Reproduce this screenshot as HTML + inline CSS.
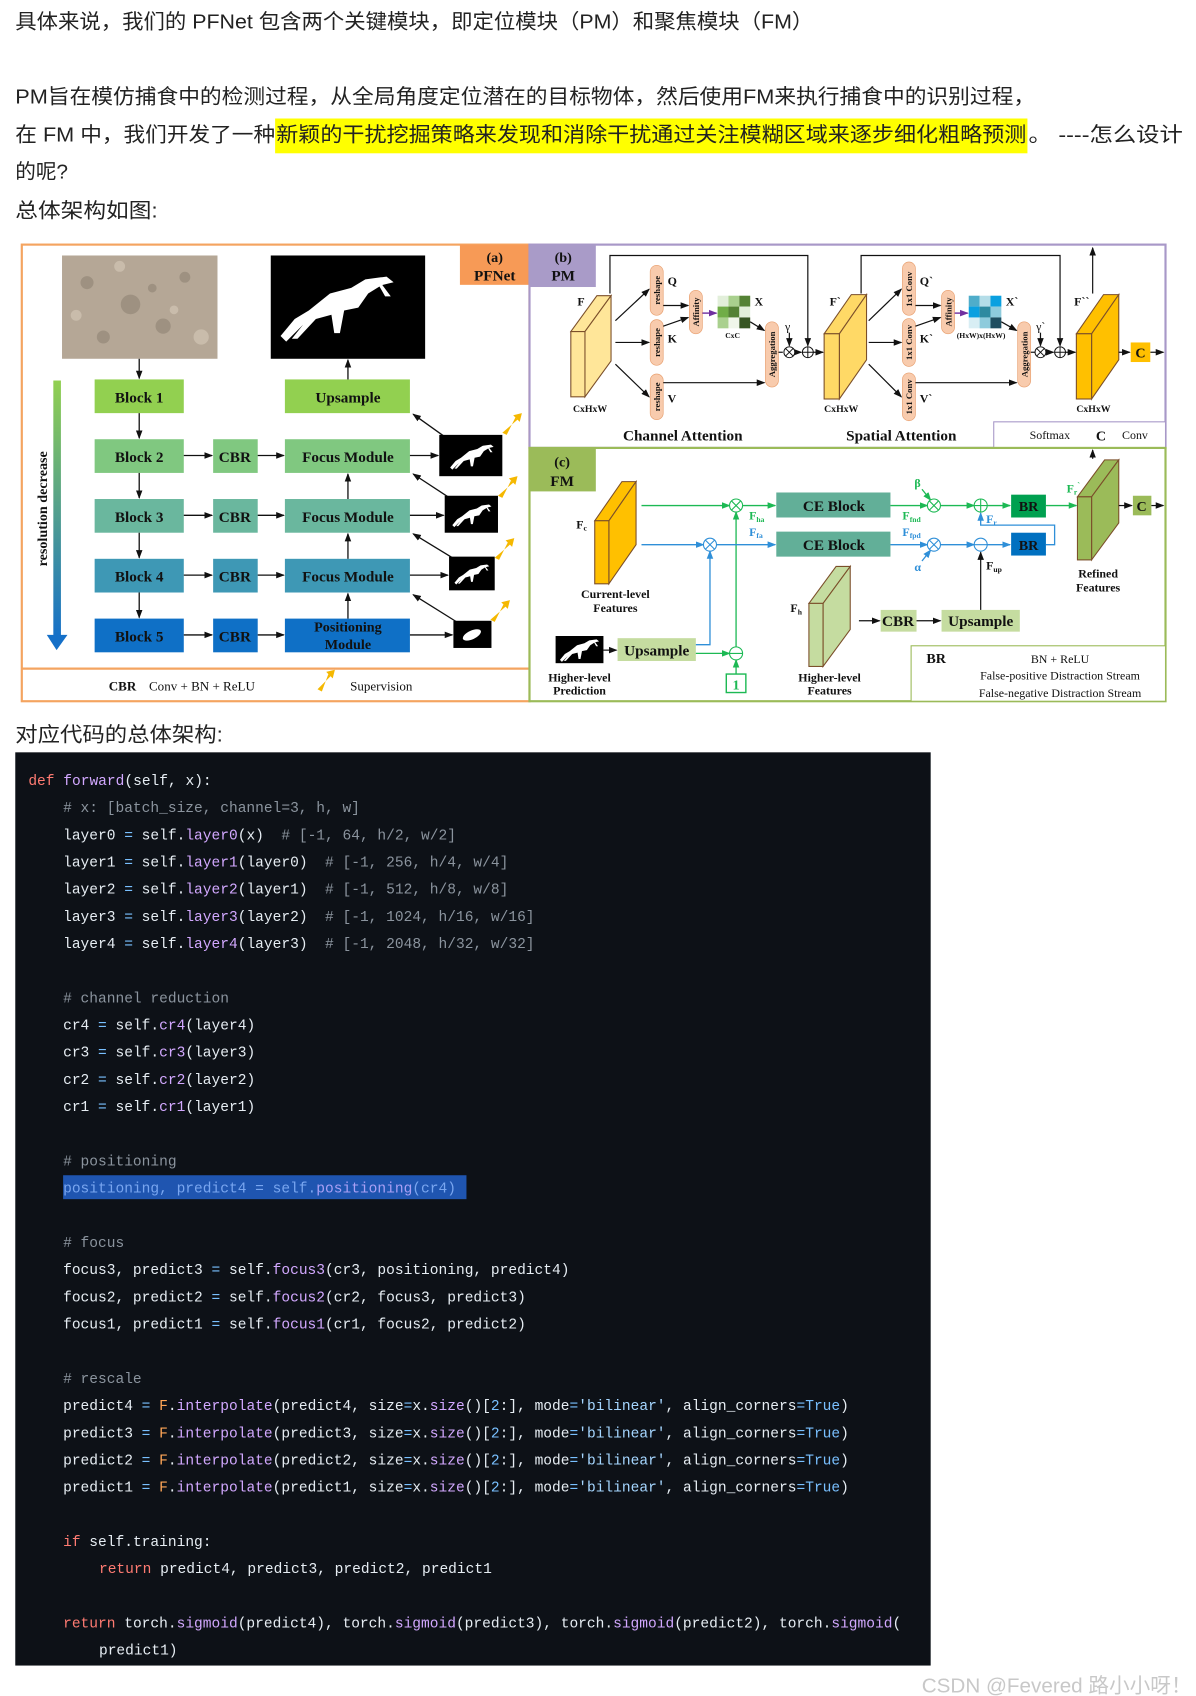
<!DOCTYPE html>
<html><head><meta charset="utf-8"><style>
html,body{margin:0;padding:0;background:#fff;width:1196px;height:1696px;overflow:hidden}
svg{display:block}
.cn{font-family:"Liberation Sans","Noto Sans CJK SC",sans-serif;font-size:19px;fill:#222}
.d{font-family:"Liberation Serif",serif;font-weight:bold;fill:#111}
.dn{font-family:"Liberation Serif",serif;fill:#111}
.c{font-family:"Liberation Mono",monospace;font-size:13.4px;fill:#e6edf3;white-space:pre}
.kw{fill:#ff7b72}.fn{fill:#d2a8ff}.cm{fill:#8b949e}.st{fill:#a5d6ff}.bl{fill:#79c0ff}.fo{fill:#ffa657}
</style></head><body>
<svg width="1196" height="1696" viewBox="0 0 1100 1560" xmlns="http://www.w3.org/2000/svg">
<defs>
<marker id="ak" markerWidth="8" markerHeight="8" refX="7" refY="4" orient="auto" markerUnits="userSpaceOnUse"><path d="M0,1 L8,4 L0,7 z" fill="#111"/></marker>
<marker id="ag" markerWidth="8" markerHeight="8" refX="7" refY="4" orient="auto" markerUnits="userSpaceOnUse"><path d="M0,1 L8,4 L0,7 z" fill="#1db954"/></marker>
<marker id="ab" markerWidth="8" markerHeight="8" refX="7" refY="4" orient="auto" markerUnits="userSpaceOnUse"><path d="M0,1 L8,4 L0,7 z" fill="#2f8fd8"/></marker>
<marker id="ap" markerWidth="8" markerHeight="8" refX="7" refY="4" orient="auto" markerUnits="userSpaceOnUse"><path d="M0,1 L8,4 L0,7 z" fill="#7030a0"/></marker>
<linearGradient id="rg" x1="0" y1="0" x2="0" y2="1"><stop offset="0" stop-color="#92d050"/><stop offset="1" stop-color="#1570c8"/></linearGradient>
<g id="shrimp"><path d="M-40,20 L-30,8 L-20,2 L-5,-10 L10,-14 L20,-20 L35,-22 L40,-18 L32,-16 L38,-8 L34,-8 L30,-15 L22,-10 L15,0 L5,2 L2,18 L-2,18 L-4,5 L-15,8 L-28,22 L-32,22 L-24,12 L-36,24 z" fill="#fff"/></g>
</defs>

<text class="cn" x="14" y="26" textLength="734" lengthAdjust="spacingAndGlyphs">具体来说，我们的 PFNet 包含两个关键模块，即定位模块（PM）和聚焦模块（FM）</text>
<text class="cn" x="14" y="95" textLength="938" lengthAdjust="spacingAndGlyphs">PM旨在模仿捕食中的检测过程，从全局角度定位潜在的目标物体，然后使用FM来执行捕食中的识别过程，</text>
<rect x="253" y="109" width="692" height="32" fill="#ffff00"/>
<text class="cn" x="14" y="130" textLength="239" lengthAdjust="spacingAndGlyphs">在 FM 中，我们开发了一种</text>
<text class="cn" x="254" y="130" textLength="690" lengthAdjust="spacingAndGlyphs">新颖的干扰挖掘策略来发现和消除干扰通过关注模糊区域来逐步细化粗略预测</text>
<text class="cn" x="946" y="130" textLength="142" lengthAdjust="spacingAndGlyphs">。 ----怎么设计</text>
<text class="cn" x="14" y="164">的呢?</text>
<text class="cn" x="14" y="200" textLength="131" lengthAdjust="spacingAndGlyphs">总体架构如图:</text>
<text class="cn" x="14" y="682" textLength="191" lengthAdjust="spacingAndGlyphs">对应代码的总体架构:</text>

<rect x="20" y="225" width="467" height="420" fill="#fff" stroke="#f4a460" stroke-width="2"/>
<line x1="20" y1="615" x2="487" y2="615" stroke="#f4a460" stroke-width="2"/>
<rect x="423" y="225" width="64" height="37" fill="#f79a56"/>
<text class="d" x="455" y="241" font-size="13" text-anchor="middle">(a)</text>
<text class="d" x="455" y="258" font-size="14" text-anchor="middle">PFNet</text>
<rect x="57" y="235" width="143" height="95" fill="#b5a796"/>
<g fill="#8f8474" opacity="0.6"><circle cx="80" cy="260" r="6"/><circle cx="120" cy="280" r="9"/><circle cx="150" cy="300" r="7"/><circle cx="170" cy="255" r="5"/><circle cx="95" cy="310" r="6"/><circle cx="140" cy="265" r="4"/></g>
<g fill="#d2c6b5" opacity="0.7"><circle cx="70" cy="290" r="5"/><circle cx="185" cy="310" r="7"/><circle cx="110" cy="245" r="5"/><circle cx="160" cy="285" r="4"/></g>
<rect x="249" y="235" width="142" height="95" fill="#000"/>
<use href="#shrimp" transform="translate(310,283) scale(1.3)"/>
<rect x="49" y="350" width="7" height="236" fill="url(#rg)"/>
<path d="M43,584 L62,584 L52,598 z" fill="#1570c8"/>
<text class="d" x="43" y="468" font-size="13" text-anchor="middle" transform="rotate(-90 43 468)">resolution decrease</text>

<g font-size="14">
<rect x="87" y="349" width="82" height="31" fill="#92d050"/><text class="d" x="128" y="370" text-anchor="middle">Block 1</text>
<rect x="87" y="404" width="82" height="31" fill="#80c880"/><text class="d" x="128" y="425" text-anchor="middle">Block 2</text>
<rect x="87" y="459" width="82" height="31" fill="#6ab79e"/><text class="d" x="128" y="480" text-anchor="middle">Block 3</text>
<rect x="87" y="514" width="82" height="31" fill="#3e98b5"/><text class="d" x="128" y="535" text-anchor="middle">Block 4</text>
<rect x="87" y="569" width="82" height="31" fill="#0f70c6"/><text class="d" x="128" y="590" text-anchor="middle">Block 5</text>
<rect x="196" y="404" width="41" height="31" fill="#80c880"/><text class="d" x="216" y="425" text-anchor="middle">CBR</text>
<rect x="196" y="459" width="41" height="31" fill="#6ab79e"/><text class="d" x="216" y="480" text-anchor="middle">CBR</text>
<rect x="196" y="514" width="41" height="31" fill="#3e98b5"/><text class="d" x="216" y="535" text-anchor="middle">CBR</text>
<rect x="196" y="569" width="41" height="31" fill="#0f70c6"/><text class="d" x="216" y="590" text-anchor="middle">CBR</text>
<rect x="262" y="349" width="115" height="31" fill="#92d050"/><text class="d" x="320" y="370" text-anchor="middle">Upsample</text>
<rect x="262" y="404" width="115" height="31" fill="#80c880"/><text class="d" x="320" y="425" text-anchor="middle">Focus Module</text>
<rect x="262" y="459" width="115" height="31" fill="#6ab79e"/><text class="d" x="320" y="480" text-anchor="middle">Focus Module</text>
<rect x="262" y="514" width="115" height="31" fill="#3e98b5"/><text class="d" x="320" y="535" text-anchor="middle">Focus Module</text>
<rect x="262" y="569" width="115" height="31" fill="#0f70c6"/><text class="d" x="320" y="581" text-anchor="middle" font-size="13">Positioning</text><text class="d" x="320" y="597" text-anchor="middle" font-size="13">Module</text>
</g>
<g stroke="#111" stroke-width="1.2" marker-end="url(#ak)" fill="none">
<line x1="128" y1="330" x2="128" y2="348"/><line x1="128" y1="380" x2="128" y2="403"/><line x1="128" y1="435" x2="128" y2="458"/><line x1="128" y1="490" x2="128" y2="513"/><line x1="128" y1="545" x2="128" y2="568"/>
<line x1="169" y1="419" x2="195" y2="419"/><line x1="169" y1="474" x2="195" y2="474"/><line x1="169" y1="529" x2="195" y2="529"/><line x1="169" y1="584" x2="195" y2="584"/>
<line x1="237" y1="419" x2="261" y2="419"/><line x1="237" y1="474" x2="261" y2="474"/><line x1="237" y1="529" x2="261" y2="529"/><line x1="237" y1="584" x2="261" y2="584"/>
<line x1="320" y1="349" x2="320" y2="331"/><line x1="320" y1="459" x2="320" y2="436"/><line x1="320" y1="514" x2="320" y2="491"/><line x1="320" y1="569" x2="320" y2="546"/>
<line x1="377" y1="419" x2="403" y2="419"/><line x1="377" y1="474" x2="408" y2="474"/><line x1="377" y1="529" x2="412" y2="529"/><line x1="377" y1="584" x2="416" y2="584"/>
<line x1="408" y1="401" x2="380" y2="381"/><line x1="412" y1="457" x2="380" y2="436"/><line x1="416" y1="513" x2="380" y2="491"/><line x1="420" y1="572" x2="380" y2="547"/>
</g>
<rect x="404" y="400" width="58" height="38" fill="#000"/><use href="#shrimp" transform="translate(434,420) scale(0.5)"/>
<rect x="409" y="456" width="49" height="34" fill="#000"/><use href="#shrimp" transform="translate(434,474) scale(0.45)"/>
<rect x="413" y="512" width="42" height="31" fill="#000"/><use href="#shrimp" transform="translate(434,528) scale(0.4)"/>
<rect x="417" y="571" width="35" height="25" fill="#000"/><ellipse cx="434" cy="584" rx="9" ry="4" fill="#fff" transform="rotate(-25 434 584)"/>
<g fill="#f5b800">
<path d="M462,398 L476,386 L472,382 L480,380 L478,388 L474,384 L466,400 z"/>
<path d="M458,456 L472,444 L468,440 L476,438 L474,446 L470,442 L462,458 z"/>
<path d="M455,513 L469,501 L465,497 L473,495 L471,503 L467,499 L459,515 z"/>
<path d="M451,570 L465,558 L461,554 L469,552 L467,560 L463,556 L455,572 z"/>
<path d="M292,634 L304,622 L300,618 L308,616 L306,624 L302,620 L296,636 z"/>
</g>
<text class="d" x="100" y="635" font-size="12">CBR</text>
<text class="dn" x="137" y="635" font-size="12">Conv + BN + ReLU</text>
<text class="dn" x="322" y="635" font-size="12">Supervision</text>

<rect x="487" y="225" width="585" height="187" fill="#fff" stroke="#a898c8" stroke-width="2"/>
<rect x="487" y="225" width="61" height="39" fill="#a99bc8"/>
<text class="d" x="518" y="241" font-size="13" text-anchor="middle">(b)</text>
<text class="d" x="518" y="258" font-size="14" text-anchor="middle">PM</text>

<g stroke="#7b4f2a" stroke-width="1">
<polygon points="525,305 549,272 562,272 538,305" fill="#ffe699"/><polygon points="538,305 562,272 562,332 538,365" fill="#ffe699"/><rect x="525" y="305" width="13" height="60" fill="#ffe699"/>
<polygon points="758,307 783,271 797,271 772,307" fill="#ffd966"/><polygon points="772,307 797,271 797,331 772,367" fill="#ffd966"/><rect x="758" y="307" width="14" height="60" fill="#ffd966"/>
<polygon points="990,307 1015,271 1029,271 1004,307" fill="#ffc000"/><polygon points="1004,307 1029,271 1029,331 1004,367" fill="#ffc000"/><rect x="990" y="307" width="14" height="60" fill="#ffc000"/>
</g>
<g font-size="11">
<text class="d" x="531" y="281">F</text><text class="d" x="763" y="281">F`</text><text class="d" x="988" y="281">F``</text>
<text class="d" x="527" y="379" font-size="9">CxHxW</text><text class="d" x="758" y="379" font-size="9">CxHxW</text><text class="d" x="990" y="379" font-size="9">CxHxW</text>
</g>
<g fill="#f8cbad" stroke="#e8a070" stroke-width="0.6">
<rect x="598" y="244" width="12" height="46" rx="6"/><rect x="598" y="294" width="12" height="42" rx="6"/><rect x="598" y="344" width="12" height="42" rx="6"/>
<rect x="634" y="267" width="12" height="40" rx="6"/><rect x="704" y="296" width="12" height="60" rx="6"/>
<rect x="830" y="241" width="12" height="49" rx="6"/><rect x="830" y="293" width="12" height="44" rx="6"/><rect x="830" y="343" width="12" height="44" rx="6"/>
<rect x="866" y="267" width="12" height="40" rx="6"/><rect x="936" y="296" width="12" height="60" rx="6"/>
</g>
<g font-size="8" text-anchor="middle">
<text class="d" transform="translate(607,267) rotate(-90)">reshape</text>
<text class="d" transform="translate(607,315) rotate(-90)">reshape</text>
<text class="d" transform="translate(607,365) rotate(-90)">reshape</text>
<text class="d" transform="translate(643,287) rotate(-90)">Affinity</text>
<text class="d" transform="translate(713,326) rotate(-90)">Aggregation</text>
<text class="d" transform="translate(839,266) rotate(-90)">1x1 Conv</text>
<text class="d" transform="translate(839,315) rotate(-90)">1x1 Conv</text>
<text class="d" transform="translate(839,365) rotate(-90)">1x1 Conv</text>
<text class="d" transform="translate(875,287) rotate(-90)">Affinity</text>
<text class="d" transform="translate(945,326) rotate(-90)">Aggregation</text>
</g>
<g font-size="11">
<text class="d" x="614" y="262">Q</text><text class="d" x="614" y="315">K</text><text class="d" x="614" y="370">V</text>
<text class="d" x="846" y="262">Q`</text><text class="d" x="846" y="315">K`</text><text class="d" x="846" y="370">V`</text>
<text class="d" x="694" y="281">X</text><text class="d" x="925" y="281">X`</text>
<text class="d" x="667" y="311" font-size="7">CxC</text><text class="d" x="880" y="311" font-size="7">(HxW)x(HxW)</text>
<text class="dn" x="722" y="304" font-size="11">γ</text><text class="dn" x="953" y="304" font-size="11">γ`</text>
</g>
<g>
<rect x="660" y="272" width="10" height="10" fill="#e2efda"/><rect x="670" y="272" width="10" height="10" fill="#a9d08e"/><rect x="680" y="272" width="10" height="10" fill="#548235"/>
<rect x="660" y="282" width="10" height="10" fill="#70ad47"/><rect x="670" y="282" width="10" height="10" fill="#548235"/><rect x="680" y="282" width="10" height="10" fill="#e2efda"/>
<rect x="660" y="292" width="10" height="10" fill="#a9d08e"/><rect x="670" y="292" width="10" height="10" fill="#f0f6ea"/><rect x="680" y="292" width="10" height="10" fill="#375623"/>
<rect x="891" y="272" width="10" height="10" fill="#4fadca"/><rect x="901" y="272" width="10" height="10" fill="#b4dde8"/><rect x="911" y="272" width="10" height="10" fill="#0aa0e0"/>
<rect x="891" y="282" width="10" height="10" fill="#0aa0e0"/><rect x="901" y="282" width="10" height="10" fill="#2e8aa0"/><rect x="911" y="282" width="10" height="10" fill="#8ecbdc"/>
<rect x="891" y="292" width="10" height="10" fill="#d8eef4"/><rect x="901" y="292" width="10" height="10" fill="#8ecbdc"/><rect x="911" y="292" width="10" height="10" fill="#1f4e60"/>
</g>
<g stroke="#111" stroke-width="1.1" fill="none">
<line x1="566" y1="295" x2="597" y2="266" marker-end="url(#ak)"/><line x1="566" y1="315" x2="597" y2="315" marker-end="url(#ak)"/><line x1="566" y1="335" x2="597" y2="365" marker-end="url(#ak)"/>
<line x1="610" y1="281" x2="633" y2="281" marker-end="url(#ak)"/><line x1="610" y1="300" x2="633" y2="292" marker-end="url(#ak)"/>
<line x1="690" y1="296" x2="703" y2="304" marker-end="url(#ak)"/><line x1="610" y1="352" x2="703" y2="352" marker-end="url(#ak)"/>
<line x1="716" y1="324" x2="720" y2="324"/><line x1="731" y1="324" x2="737" y2="324" marker-end="url(#ak)"/><line x1="748" y1="324" x2="757" y2="324" marker-end="url(#ak)"/>
<line x1="726" y1="306" x2="726" y2="318" marker-end="url(#ak)"/>
<polyline points="561,270 561,235 743,235 743,318" marker-end="url(#ak)"/>
<line x1="799" y1="295" x2="829" y2="266" marker-end="url(#ak)"/><line x1="799" y1="315" x2="829" y2="315" marker-end="url(#ak)"/><line x1="799" y1="335" x2="829" y2="365" marker-end="url(#ak)"/>
<line x1="842" y1="281" x2="865" y2="281" marker-end="url(#ak)"/><line x1="842" y1="300" x2="865" y2="292" marker-end="url(#ak)"/>
<line x1="921" y1="296" x2="935" y2="304" marker-end="url(#ak)"/><line x1="842" y1="352" x2="935" y2="352" marker-end="url(#ak)"/>
<line x1="948" y1="324" x2="952" y2="324"/><line x1="962" y1="324" x2="969" y2="324" marker-end="url(#ak)"/><line x1="980" y1="324" x2="989" y2="324" marker-end="url(#ak)"/>
<line x1="957" y1="306" x2="957" y2="318" marker-end="url(#ak)"/>
<polyline points="792,270 792,235 975,235 975,318" marker-end="url(#ak)"/>
<line x1="1005" y1="270" x2="1005" y2="228" marker-end="url(#ak)"/>
<line x1="1029" y1="324" x2="1039" y2="324" marker-end="url(#ak)"/><line x1="1058" y1="324" x2="1070" y2="324" marker-end="url(#ak)"/>
</g>
<g stroke="#7030a0" stroke-width="1.3"><line x1="646" y1="288" x2="659" y2="288" marker-end="url(#ap)"/><line x1="878" y1="288" x2="890" y2="288" marker-end="url(#ap)"/><line x1="923" y1="400" x2="938" y2="400" marker-end="url(#ap)"/></g>
<g stroke="#111" stroke-width="0.9" fill="#fff">
<circle cx="726" cy="324" r="5"/><circle cx="743" cy="324" r="5"/><circle cx="957" cy="324" r="5"/><circle cx="975" cy="324" r="5"/>
<path d="M722.5,320.5 L729.5,327.5 M729.5,320.5 L722.5,327.5 M738,324 H748 M743,319 V329 M953.5,320.5 L960.5,327.5 M960.5,320.5 L953.5,327.5 M970,324 H980 M975,319 V329"/>
</g>
<rect x="1040" y="315" width="18" height="18" fill="#ffc000"/><text class="d" x="1049" y="329" font-size="13" text-anchor="middle">C</text>
<text class="d" x="628" y="405" font-size="14" text-anchor="middle">Channel Attention</text>
<text class="d" x="829" y="405" font-size="14" text-anchor="middle">Spatial Attention</text>
<rect x="914" y="388" width="158" height="24" fill="#fff" stroke="#a898c8" stroke-width="1"/>
<text class="dn" x="947" y="404" font-size="11">Softmax</text><text class="d" x="1008" y="405" font-size="13">C</text><text class="dn" x="1032" y="404" font-size="11">Conv</text>

<rect x="487" y="412" width="585" height="233" fill="#fff" stroke="#9bbb59" stroke-width="2"/>
<rect x="487" y="412" width="61" height="40" fill="#9bbb59"/>
<text class="d" x="517" y="429" font-size="13" text-anchor="middle">(c)</text>
<text class="d" x="517" y="447" font-size="14" text-anchor="middle">FM</text>
<g stroke="#7b4f2a" stroke-width="1">
<polygon points="547,479 572,443 585,443 560,479" fill="#ffc000"/><polygon points="560,479 585,443 585,501 560,537" fill="#ffc000"/><rect x="547" y="479" width="13" height="58" fill="#ffc000"/>
<polygon points="744,555 769,521 782,521 757,555" fill="#c5dca0"/><polygon points="757,555 782,521 782,579 757,613" fill="#c5dca0"/><rect x="744" y="555" width="13" height="58" fill="#c5dca0"/>
<polygon points="991,457 1016,423 1029,423 1004,457" fill="#9bbb59"/><polygon points="1004,457 1029,423 1029,481 1004,515" fill="#9bbb59"/><rect x="991" y="457" width="13" height="58" fill="#9bbb59"/>
</g>
<text class="d" x="530" y="486" font-size="11">F<tspan font-size="7" dy="2">c</tspan></text>
<text class="d" x="727" y="563" font-size="11">F<tspan font-size="7" dy="2">h</tspan></text>
<text class="d" x="981" y="453" font-size="11" style="fill:#1db954">F<tspan font-size="7" dy="2">r</tspan><tspan dy="-6" font-size="8">`</tspan></text>
<text class="d" x="566" y="550" font-size="11" text-anchor="middle">Current-level</text><text class="d" x="566" y="563" font-size="11" text-anchor="middle">Features</text>
<text class="d" x="533" y="627" font-size="11" text-anchor="middle">Higher-level</text><text class="d" x="533" y="639" font-size="11" text-anchor="middle">Prediction</text>
<text class="d" x="763" y="627" font-size="11" text-anchor="middle">Higher-level</text><text class="d" x="763" y="639" font-size="11" text-anchor="middle">Features</text>
<text class="d" x="1010" y="531" font-size="11" text-anchor="middle">Refined</text><text class="d" x="1010" y="544" font-size="11" text-anchor="middle">Features</text>
<rect x="714" y="453" width="105" height="23" fill="#62af98"/><text class="d" x="767" y="470" font-size="14" text-anchor="middle">CE Block</text>
<rect x="714" y="489" width="105" height="23" fill="#62af98"/><text class="d" x="767" y="506" font-size="14" text-anchor="middle">CE Block</text>
<rect x="930" y="455" width="32" height="21" fill="#00a050"/><text class="d" x="946" y="470" font-size="13" text-anchor="middle">BR</text>
<rect x="930" y="490" width="32" height="21" fill="#0070c0"/><text class="d" x="946" y="506" font-size="13" text-anchor="middle">BR</text>
<rect x="511" y="585" width="44" height="25" fill="#000"/><use href="#shrimp" transform="translate(533,598) scale(0.45)"/>
<rect x="568" y="587" width="72" height="21" fill="#c5dca0"/><text class="d" x="604" y="603" font-size="14" text-anchor="middle">Upsample</text>
<rect x="810" y="561" width="33" height="20" fill="#c5dca0"/><text class="d" x="826" y="576" font-size="14" text-anchor="middle">CBR</text>
<rect x="866" y="561" width="72" height="20" fill="#c5dca0"/><text class="d" x="902" y="576" font-size="14" text-anchor="middle">Upsample</text>
<rect x="1042" y="456" width="17" height="18" fill="#9bbb59"/><text class="d" x="1050" y="470" font-size="13" text-anchor="middle">C</text>
<rect x="668" y="620" width="18" height="17" fill="#fff" stroke="#1db954" stroke-width="1.3"/><text class="d" x="677" y="634" font-size="13" text-anchor="middle" style="fill:#1db954">1</text>

<g stroke="#1db954" stroke-width="1.2" fill="none">
<line x1="590" y1="465" x2="671" y2="465" marker-end="url(#ag)"/><line x1="683" y1="465" x2="713" y2="465" marker-end="url(#ag)"/>
<line x1="677" y1="595" x2="677" y2="471" marker-end="url(#ag)"/><line x1="640" y1="601" x2="671" y2="601" marker-end="url(#ag)"/>
<line x1="677" y1="620" x2="677" y2="607" marker-end="url(#ag)"/>
<line x1="819" y1="465" x2="853" y2="465" marker-end="url(#ag)"/><line x1="865" y1="465" x2="896" y2="465" marker-end="url(#ag)"/>
<line x1="908" y1="465" x2="929" y2="465" marker-end="url(#ag)"/><line x1="962" y1="465" x2="990" y2="465" marker-end="url(#ag)"/>
<line x1="848" y1="450" x2="856" y2="460" marker-end="url(#ag)"/>
<line x1="846" y1="621" x2="878" y2="621" stroke="#2f8fd8" marker-end="url(#ab)"/>
<line x1="846" y1="637" x2="878" y2="637" marker-end="url(#ag)"/>
</g>
<g stroke="#2f8fd8" stroke-width="1.2" fill="none">
<line x1="590" y1="501" x2="647" y2="501" marker-end="url(#ab)"/><line x1="659" y1="501" x2="713" y2="501" marker-end="url(#ab)"/>
<polyline points="640,593 653,593 653,507" marker-end="url(#ab)"/>
<line x1="819" y1="501" x2="853" y2="501" marker-end="url(#ab)"/><line x1="865" y1="501" x2="896" y2="501" marker-end="url(#ab)"/>
<line x1="908" y1="501" x2="929" y2="501" marker-end="url(#ab)"/>
<polyline points="962,501 970,501 970,483 902,483 902,472" marker-end="url(#ab)"/>
<line x1="848" y1="516" x2="856" y2="506" marker-end="url(#ab)"/>
</g>
<g stroke="#111" stroke-width="1.1" fill="none">
<line x1="790" y1="571" x2="809" y2="571" marker-end="url(#ak)"/><line x1="843" y1="571" x2="865" y2="571" marker-end="url(#ak)"/>
<line x1="902" y1="561" x2="902" y2="508" marker-end="url(#ak)"/>
<line x1="555" y1="598" x2="567" y2="598" marker-end="url(#ak)"/>
<line x1="1005" y1="422" x2="1005" y2="414" marker-end="url(#ak)"/>
<line x1="1029" y1="465" x2="1041" y2="465" marker-end="url(#ak)"/><line x1="1059" y1="465" x2="1070" y2="465" marker-end="url(#ak)"/>
</g>
<g stroke="#1db954" stroke-width="1" fill="#fff">
<circle cx="677" cy="465" r="6"/><circle cx="859" cy="465" r="6"/><circle cx="902" cy="465" r="6"/><circle cx="677" cy="601" r="6"/>
<path d="M673,461 L681,469 M681,461 L673,469 M855,461 L863,469 M863,461 L855,469 M896,465 H908 M902,459 V471 M671,601 H683"/>
</g>
<g stroke="#2f8fd8" stroke-width="1" fill="#fff">
<circle cx="653" cy="501" r="6"/><circle cx="859" cy="501" r="6"/><circle cx="902" cy="501" r="6"/>
<path d="M649,497 L657,505 M657,497 L649,505 M855,497 L863,505 M863,497 L855,505 M896,501 H908"/>
</g>
<g font-size="11" class="d">
<text x="689" y="478" style="fill:#1db954">F<tspan font-size="7" dy="2">ha</tspan></text>
<text x="689" y="493" style="fill:#2f8fd8">F<tspan font-size="7" dy="2">fa</tspan></text>
<text x="830" y="478" style="fill:#1db954">F<tspan font-size="7" dy="2">fnd</tspan></text>
<text x="830" y="493" style="fill:#2f8fd8">F<tspan font-size="7" dy="2">fpd</tspan></text>
<text x="907" y="481" style="fill:#2f8fd8">F<tspan font-size="7" dy="2">r</tspan></text>
<text x="907" y="524" style="fill:#111">F<tspan font-size="7" dy="2">up</tspan></text>
<text x="841" y="448" style="fill:#1db954">β</text>
<text x="841" y="525" style="fill:#2f8fd8">α</text>
</g>
<rect x="838" y="594" width="234" height="51" fill="#fff" stroke="#9bbb59" stroke-width="1"/>
<text class="d" x="852" y="610" font-size="13">BR</text>
<text class="dn" x="975" y="610" font-size="11" text-anchor="middle">BN + ReLU</text>
<text class="dn" x="975" y="625" font-size="11" text-anchor="middle">False-positive Distraction Stream</text>
<text class="dn" x="975" y="641" font-size="11" text-anchor="middle">False-negative Distraction Stream</text>

<rect x="14" y="692" width="842" height="840" fill="#0d1117"/>
<rect x="58" y="1081" width="371" height="22" fill="#1f55b0"/>
<g>
<text class="c" x="26" y="722"><tspan class="kw">def</tspan> <tspan class="fn">forward</tspan>(self, x):</text>
<text class="c cm" x="58" y="747"># x: [batch_size, channel=3, h, w]</text>
<text class="c" x="58" y="772">layer0 <tspan class="bl">=</tspan> self.<tspan class="fn">layer0</tspan>(x)  <tspan class="cm"># [-1, 64, h/2, w/2]</tspan></text>
<text class="c" x="58" y="797">layer1 <tspan class="bl">=</tspan> self.<tspan class="fn">layer1</tspan>(layer0)  <tspan class="cm"># [-1, 256, h/4, w/4]</tspan></text>
<text class="c" x="58" y="822">layer2 <tspan class="bl">=</tspan> self.<tspan class="fn">layer2</tspan>(layer1)  <tspan class="cm"># [-1, 512, h/8, w/8]</tspan></text>
<text class="c" x="58" y="847">layer3 <tspan class="bl">=</tspan> self.<tspan class="fn">layer3</tspan>(layer2)  <tspan class="cm"># [-1, 1024, h/16, w/16]</tspan></text>
<text class="c" x="58" y="872">layer4 <tspan class="bl">=</tspan> self.<tspan class="fn">layer4</tspan>(layer3)  <tspan class="cm"># [-1, 2048, h/32, w/32]</tspan></text>
<text class="c cm" x="58" y="922"># channel reduction</text>
<text class="c" x="58" y="947">cr4 <tspan class="bl">=</tspan> self.<tspan class="fn">cr4</tspan>(layer4)</text>
<text class="c" x="58" y="972">cr3 <tspan class="bl">=</tspan> self.<tspan class="fn">cr3</tspan>(layer3)</text>
<text class="c" x="58" y="997">cr2 <tspan class="bl">=</tspan> self.<tspan class="fn">cr2</tspan>(layer2)</text>
<text class="c" x="58" y="1022">cr1 <tspan class="bl">=</tspan> self.<tspan class="fn">cr1</tspan>(layer1)</text>
<text class="c cm" x="58" y="1072"># positioning</text>
<text class="c" x="58" y="1097" style="fill:#79a6f0">positioning, predict4 = self.<tspan style="fill:#a9a0f5">positioning</tspan>(cr4)</text>
<text class="c cm" x="58" y="1147"># focus</text>
<text class="c" x="58" y="1172">focus3, predict3 <tspan class="bl">=</tspan> self.<tspan class="fn">focus3</tspan>(cr3, positioning, predict4)</text>
<text class="c" x="58" y="1197">focus2, predict2 <tspan class="bl">=</tspan> self.<tspan class="fn">focus2</tspan>(cr2, focus3, predict3)</text>
<text class="c" x="58" y="1222">focus1, predict1 <tspan class="bl">=</tspan> self.<tspan class="fn">focus1</tspan>(cr1, focus2, predict2)</text>
<text class="c cm" x="58" y="1272"># rescale</text>
<text class="c" x="58" y="1297">predict4 <tspan class="bl">=</tspan> <tspan class="fo">F</tspan>.<tspan class="fn">interpolate</tspan>(predict4, size<tspan class="bl">=</tspan>x.<tspan class="fn">size</tspan>()[<tspan class="bl">2</tspan>:], mode<tspan class="bl">=</tspan><tspan class="st">'bilinear'</tspan>, align_corners<tspan class="bl">=True</tspan>)</text>
<text class="c" x="58" y="1322">predict3 <tspan class="bl">=</tspan> <tspan class="fo">F</tspan>.<tspan class="fn">interpolate</tspan>(predict3, size<tspan class="bl">=</tspan>x.<tspan class="fn">size</tspan>()[<tspan class="bl">2</tspan>:], mode<tspan class="bl">=</tspan><tspan class="st">'bilinear'</tspan>, align_corners<tspan class="bl">=True</tspan>)</text>
<text class="c" x="58" y="1347">predict2 <tspan class="bl">=</tspan> <tspan class="fo">F</tspan>.<tspan class="fn">interpolate</tspan>(predict2, size<tspan class="bl">=</tspan>x.<tspan class="fn">size</tspan>()[<tspan class="bl">2</tspan>:], mode<tspan class="bl">=</tspan><tspan class="st">'bilinear'</tspan>, align_corners<tspan class="bl">=True</tspan>)</text>
<text class="c" x="58" y="1372">predict1 <tspan class="bl">=</tspan> <tspan class="fo">F</tspan>.<tspan class="fn">interpolate</tspan>(predict1, size<tspan class="bl">=</tspan>x.<tspan class="fn">size</tspan>()[<tspan class="bl">2</tspan>:], mode<tspan class="bl">=</tspan><tspan class="st">'bilinear'</tspan>, align_corners<tspan class="bl">=True</tspan>)</text>
<text class="c" x="58" y="1422"><tspan class="kw">if</tspan> self.training:</text>
<text class="c" x="91" y="1447"><tspan class="kw">return</tspan> predict4, predict3, predict2, predict1</text>
<text class="c" x="58" y="1497"><tspan class="kw">return</tspan> torch.<tspan class="fn">sigmoid</tspan>(predict4), torch.<tspan class="fn">sigmoid</tspan>(predict3), torch.<tspan class="fn">sigmoid</tspan>(predict2), torch.<tspan class="fn">sigmoid</tspan>(</text>
<text class="c" x="91" y="1522">predict1)</text>
</g>
<text x="1096" y="1557" text-anchor="end" font-family="Liberation Sans, Noto Sans CJK SC, sans-serif" font-size="19" fill="#c8c8c8">CSDN @Fevered 路小小呀！</text>
</svg>
</body></html>
